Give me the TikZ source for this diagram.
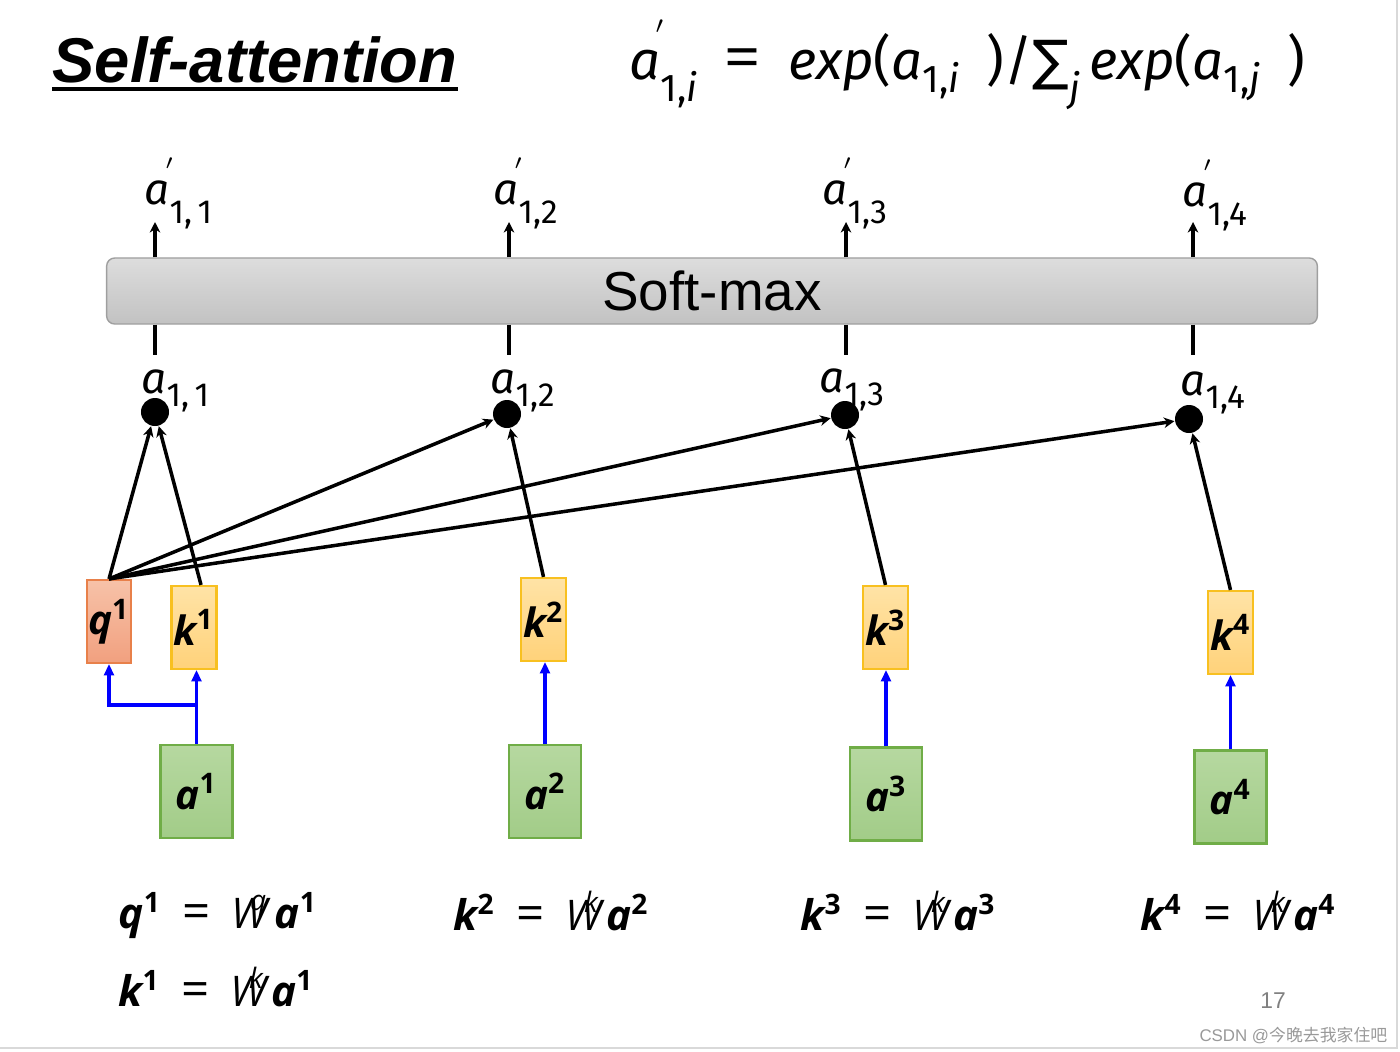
\documentclass[tikz,border=0pt]{standalone}
\usepackage{fontspec}
\setmainfont{Fira Sans}
\newfontfamily\titlefont{Liberation Sans}
\newfontfamily\vecfont{Open Sans}
\newfontfamily\symfont{DejaVu Sans}
\newfontfamily\cjkfont{Noto Sans CJK SC}
\usetikzlibrary{arrows.meta,positioning}

\definecolor{qline}{HTML}{E8804A}
\definecolor{qtop}{HTML}{F7C2A8}
\definecolor{qbot}{HTML}{F1A07F}
\definecolor{kline}{HTML}{F8C020}
\definecolor{ktop}{HTML}{FFE3A6}
\definecolor{kbot}{HTML}{FFD27A}
\definecolor{aline}{HTML}{70AD47}
\definecolor{atop}{HTML}{B6D8A0}
\definecolor{abot}{HTML}{A2CC88}
\definecolor{smtop}{HTML}{DDDDDD}
\definecolor{smbot}{HTML}{C2C2C2}

% labels a_{1,i} and a'_{1,i}
\newcommand\alab[1]{\fontsize{12.5}{12.5}\selectfont\textit{a}\raisebox{-0.3em}{\fontsize{9.5}{9.5}\selectfont #1}}
\newcommand\aplab[1]{\fontsize{12.5}{12.5}\selectfont\textit{a}\rlap{\kern-0.1em\raisebox{0.55em}{\fontsize{8}{8}\selectfont$'$}}\raisebox{-0.45em}{\fontsize{9.5}{9.5}\selectfont #1}}
% bold italic vector with index
\newcommand\vlab[2]{{\vecfont\bfseries\itshape #1}\textsuperscript{\vecfont\bfseries #2}}
\newcommand\blab[2]{\raisebox{-2.2pt}{\vlab{#1}{#2}}}
\newcommand\eqlab[3]{\fontsize{12}{12}\selectfont\vlab{#1}{#2}\enspace{\vecfont\fontsize{14}{14}\selectfont=}\enspace{\vecfont\itshape W}\kern-0.42em\raisebox{0.42em}{\vecfont\fontsize{8}{8}\selectfont\itshape #3}\kern0.2em\vlab{a}{#2}}

\begin{document}
\begin{tikzpicture}[x=0.01cm,y=-0.01cm,
  box/.style={draw,line width=0.6pt,inner sep=0pt,font=\fontsize{11.5}{11.5}\selectfont},
  qbox/.style={box,draw=qline,top color=qtop,bottom color=qbot,minimum width=0.44cm,minimum height=0.83cm},
  kbox/.style={box,draw=kline,top color=ktop,bottom color=kbot,minimum width=0.45cm,minimum height=0.83cm},
  abox/.style={box,draw=aline,top color=atop,bottom color=abot,minimum width=0.72cm,minimum height=0.93cm},
  dot/.style={circle,fill,inner sep=0pt,minimum size=0.28cm},
  att/.style={line width=1pt,-{Stealth[length=3pt,width=3pt]}},
  proj/.style={blue,line width=1pt,-{Triangle[length=3.2pt,width=2.8pt]}}]
\useasboundingbox (0,0) rectangle (1400,1051);
\draw[gray!30,line width=0.6pt] (1397,0) -- (1397,1048) -- (0,1048);

\node[anchor=base west,inner sep=0pt,font=\titlefont\bfseries\itshape\fontsize{18}{18}\selectfont] (title) at (52,82) {Self-attention};
\draw[line width=0.9pt] ([yshift=-2pt]title.base west) -- ([yshift=-2pt]title.base east);

\node[anchor=base west,inner sep=0pt,font=\fontsize{15.5}{15.5}\selectfont] (soft) at (629,79)
  {\textit{a}\rlap{\kern-0.1em\raisebox{0.6em}{\fontsize{10}{10}\selectfont$'$}}\raisebox{-0.42em}{\fontsize{11}{11}\selectfont 1,\textit{i}}\enspace{\vecfont\fontsize{18}{18}\selectfont=}\enspace\textit{exp}(\textit{a}\raisebox{-0.25em}{\fontsize{11}{11}\selectfont 1,\textit{i}}\enspace)/{\symfont ∑}\raisebox{-0.42em}{\fontsize{11}{11}\selectfont\textit{j}}\,\textit{exp}(\textit{a}\raisebox{-0.25em}{\fontsize{11}{11}\selectfont 1,\textit{j}}\enspace)};

\node[draw=gray!75,rounded corners=2.3pt,top color=smtop,bottom color=smbot,minimum width=12.1cm,minimum height=0.66cm,font=\titlefont\fontsize{15.6}{15.6}\selectfont] (sm) at (712,291) {Soft-max};

\foreach \i/\x in {1/155,2/509,3/846,4/1193}{
  \coordinate (t\i) at (\x,222);
  \coordinate (b\i) at (\x,355);
  \draw[att] (sm.north -| t\i) -- (t\i);
  \draw[line width=1pt] (sm.south -| b\i) -- (b\i);
}

\node[anchor=base west,inner sep=0pt] (p1) at (144,204) {\aplab{1,\,1}};
\node[anchor=base west,inner sep=0pt] (p2) at (493,204) {\aplab{1,2}};
\node[anchor=base west,inner sep=0pt] (p3) at (822,204) {\aplab{1,3}};
\node[anchor=base west,inner sep=0pt] (p4) at (1182,206) {\aplab{1,4}};

\node[anchor=base west,inner sep=0pt] (l1) at (141,393) {\alab{1,\,1}};
\node[anchor=base west,inner sep=0pt] (l2) at (490,393) {\alab{1,2}};
\node[anchor=base west,inner sep=0pt] (l3) at (819,392) {\alab{1,3}};
\node[anchor=base west,inner sep=0pt] (l4) at (1180,395) {\alab{1,4}};

\node[dot] (d1) at (155,412) {};
\node[dot] (d2) at (507,414) {};
\node[dot] (d3) at (845,415) {};
\node[dot] (d4) at (1189,419) {};

\node[qbox] (q1) at (109,621.5) {\blab{q}{1}};
\node[kbox] (k1) at (194,627.5) {\blab{k}{1}};
\node[kbox] (k2) at (543.5,619.5) {\blab{k}{2}};
\node[kbox] (k3) at (885.5,627.5) {\blab{k}{3}};
\node[kbox] (k4) at (1230.5,632.5) {\blab{k}{4}};

\node[abox] (a1) at (196.5,791.5) {\blab{a}{1}};
\node[abox] (a2) at (545,791.5) {\blab{a}{2}};
\node[abox] (a3) at (886,794) {\blab{a}{3}};
\node[abox] (a4) at (1230.5,797) {\blab{a}{4}};

\draw[att] (q1.north) -- (d1);
\draw[att] (q1.north) -- (d2);
\draw[att] (q1.north) -- (d3);
\draw[att] (q1.north) -- (d4);
\draw[att] ([xshift=2pt]k1.north) -- (d1);
\draw[att] (k2.north) -- (d2);
\draw[att] (k3.north) -- (d3);
\draw[att] (k4.north) -- (d4);

\draw[proj] (a1.north) -- (a1.north |- k1.south);
\draw[proj] ([yshift=0.39cm]a1.north) -| (q1.south);
\draw[proj] (a2.north) -- (a2.north |- k2.south);
\draw[proj] (a3.north) -- (a3.north |- k3.south);
\draw[proj] (a4.north) -- (a4.north |- k4.south);

\node[anchor=base west,inner sep=0pt] (e1) at (118,928) {\eqlab{q}{1}{q}};
\node[anchor=base west,inner sep=0pt] (e2) at (118,1006) {\eqlab{k}{1}{k}};
\node[anchor=base west,inner sep=0pt] (e3) at (453,930) {\eqlab{k}{2}{k}};
\node[anchor=base west,inner sep=0pt] (e4) at (800,930) {\eqlab{k}{3}{k}};
\node[anchor=base west,inner sep=0pt] (e5) at (1140,930) {\eqlab{k}{4}{k}};

\node[text=gray,font=\titlefont\fontsize{6.5}{6.5}\selectfont] (page) at (1273,1001) {17};
\node[anchor=base east,inner sep=0pt,text=gray!80,font=\titlefont\fontsize{4.8}{4.8}\selectfont] (mark) at (1388,1041) {CSDN @{\cjkfont 今晚去我家住吧}};
\end{tikzpicture}
\end{document}
